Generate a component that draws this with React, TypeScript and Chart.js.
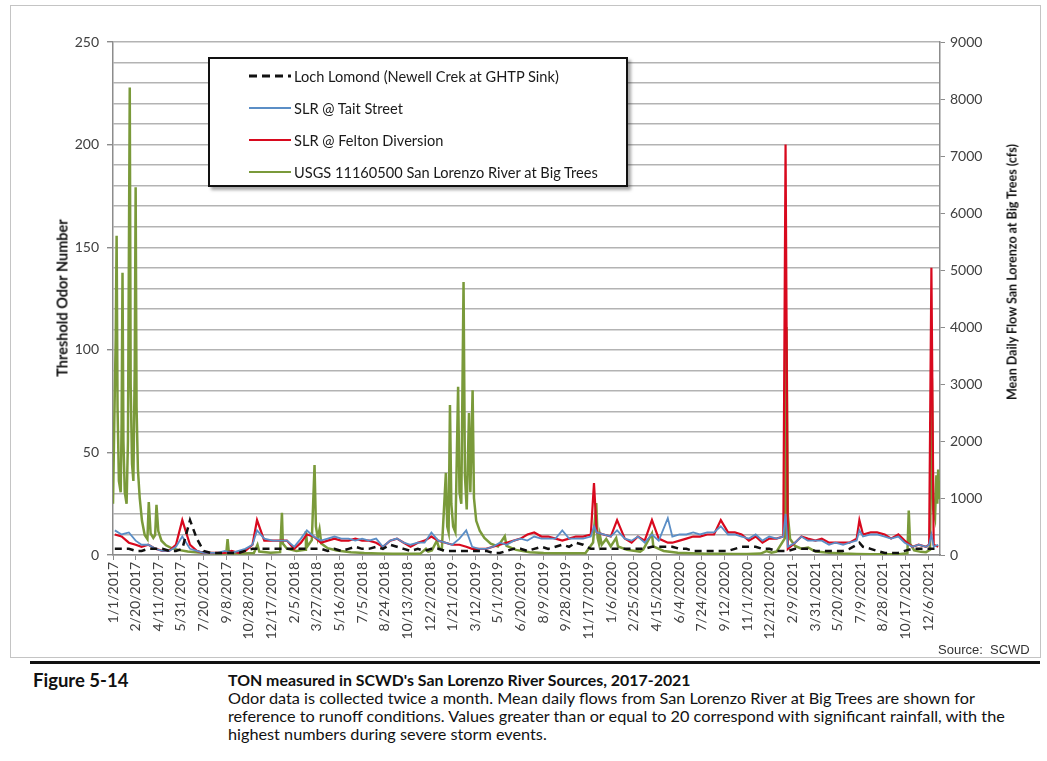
import React, { useEffect, useRef } from "react";
import { Chart, registerables } from "chart.js";

Chart.register(...registerables);

// ---------- DATA ----------
// Odor sampling dates (about twice a month)
const odorDates = [
  "2017-01-05","2017-01-20","2017-02-05","2017-02-20","2017-03-05","2017-03-20","2017-04-05","2017-04-20","2017-05-05","2017-05-20","2017-06-03","2017-06-20","2017-07-05","2017-07-20","2017-08-05","2017-08-20","2017-09-05","2017-09-20","2017-10-05","2017-10-20","2017-11-05","2017-11-15","2017-12-01","2017-12-20",
  "2018-01-05","2018-01-20","2018-02-05","2018-02-20","2018-03-05","2018-03-20","2018-04-05","2018-04-20","2018-05-05","2018-05-20","2018-06-05","2018-06-20","2018-07-05","2018-07-20","2018-08-05","2018-08-20","2018-09-05","2018-09-20","2018-10-05","2018-10-20","2018-11-05","2018-11-20","2018-12-05","2018-12-20",
  "2019-01-05","2019-01-20","2019-02-05","2019-02-20","2019-03-05","2019-03-20","2019-04-05","2019-04-20","2019-05-05","2019-05-20","2019-06-05","2019-06-20","2019-07-05","2019-07-20","2019-08-05","2019-08-20","2019-09-05","2019-09-20","2019-10-05","2019-10-20","2019-11-05","2019-11-22","2019-11-29","2019-12-05","2019-12-20",
  "2020-01-05","2020-01-19","2020-02-05","2020-02-20","2020-03-05","2020-03-20","2020-04-05","2020-04-20","2020-05-10","2020-05-20","2020-06-05","2020-06-20","2020-07-05","2020-07-20","2020-08-05","2020-08-20","2020-09-04","2020-09-20","2020-10-05","2020-10-20","2020-11-05","2020-11-20","2020-12-05","2020-12-20",
  "2021-01-05","2021-01-20","2021-01-25","2021-01-30","2021-02-15","2021-03-01","2021-03-15","2021-04-01","2021-04-15","2021-05-01","2021-05-15","2021-06-01","2021-06-15","2021-07-01","2021-07-07","2021-07-15","2021-08-01","2021-08-15","2021-09-01","2021-09-15","2021-10-01","2021-10-15","2021-11-01","2021-11-15","2021-12-01","2021-12-08","2021-12-13","2021-12-18","2021-12-28"
];

// Loch Lomond (Newell Crek at GHTP Sink)
const lochLomond = [
  3,3,3,2,2,3,3,3,2,2,3,17,8,2,1,1,1,1,1,2,3,3,3,3,
  3,3,3,3,3,3,3,2,3,2,3,4,3,3,4,3,5,4,3,2,3,2,3,3,
  2,2,2,2,2,2,2,1,1,2,3,3,2,3,4,3,4,5,4,6,5,3,3,3,3,
  3,3,3,3,3,3,4,4,4,4,3,3,2,2,2,2,2,2,3,4,4,4,3,3,
  2,2,2,2,3,3,3,2,2,2,2,2,3,5,6,4,3,2,1,1,1,2,3,3,3,3,3,3,3
];

// SLR @ Tait Street
const taitStreet = [
  12,10,11,7,5,5,3,2,2,4,9,3,2,1,1,1,2,1,2,3,5,12,8,7,
  7,7,4,8,12,9,7,8,9,8,8,7,8,7,8,4,7,8,6,5,6,6,11,7,
  6,5,8,12,4,3,3,4,6,5,7,8,7,9,8,8,8,12,8,8,8,9,14,11,10,
  9,12,8,7,9,6,10,7,18,9,10,10,11,10,11,11,14,10,10,9,8,10,7,9,
  8,9,20,4,6,9,7,7,7,5,6,5,6,7,12,9,10,10,9,8,9,6,4,5,4,5,10,4,5
];

// SLR @ Felton Diversion
const feltonDiversion = [
  10,9,6,5,4,5,3,2,2,5,17,5,2,1,1,1,1,2,1,2,5,17,7,7,
  7,7,3,6,10,9,6,7,8,7,7,8,7,7,6,4,7,8,6,4,6,7,9,7,
  6,5,5,4,3,3,3,4,5,6,7,8,10,11,9,9,8,7,8,9,9,10,35,11,10,
  9,17,8,6,9,7,17,8,6,6,7,8,9,9,10,10,17,11,11,10,7,9,6,8,
  8,9,200,3,6,9,8,7,8,6,6,6,6,8,17,10,11,11,10,8,10,7,4,5,4,5,140,5,4
];

// USGS 11160500 San Lorenzo River at Big Trees, mean daily flow (cfs)
const flowDates = [
  "2017-01-01","2017-01-04","2017-01-07","2017-01-09","2017-01-11","2017-01-14","2017-01-18","2017-01-20","2017-01-22","2017-01-24","2017-01-27","2017-01-31",
  "2017-02-03","2017-02-07","2017-02-09","2017-02-12","2017-02-15","2017-02-18","2017-02-20","2017-02-22","2017-02-25",
  "2017-03-01","2017-03-06","2017-03-12","2017-03-18","2017-03-21","2017-03-25","2017-03-31",
  "2017-04-04","2017-04-07","2017-04-11","2017-04-18","2017-04-28","2017-05-10","2017-05-25","2017-06-15","2017-07-15","2017-08-15",
  "2017-09-08","2017-09-11","2017-09-14","2017-10-15","2017-11-08","2017-11-16","2017-11-20","2017-12-15",
  "2018-01-05","2018-01-09","2018-01-11","2018-01-20","2018-02-10","2018-03-01","2018-03-03","2018-03-06","2018-03-16","2018-03-22","2018-03-25","2018-03-29",
  "2018-04-02","2018-04-06","2018-04-20","2018-05-10","2018-06-10","2018-07-10","2018-08-10","2018-09-10","2018-10-10","2018-11-10","2018-11-23","2018-11-28",
  "2018-12-06","2018-12-17","2018-12-22","2018-12-28",
  "2019-01-06","2019-01-09","2019-01-12","2019-01-15","2019-01-18","2019-01-22","2019-01-27","2019-02-02","2019-02-05","2019-02-09","2019-02-14","2019-02-17","2019-02-21","2019-02-26",
  "2019-03-01","2019-03-06","2019-03-09","2019-03-14","2019-03-22","2019-04-01","2019-04-15","2019-05-01","2019-05-16","2019-05-20","2019-06-10","2019-07-10","2019-08-10","2019-09-10","2019-10-10","2019-11-10",
  "2019-11-27","2019-12-04","2019-12-07","2019-12-10","2019-12-12","2019-12-16","2019-12-26",
  "2020-01-05","2020-01-17","2020-01-21","2020-02-10","2020-03-10","2020-03-17","2020-04-05","2020-04-08","2020-05-01","2020-06-01","2020-07-01","2020-08-01","2020-09-01","2020-10-01","2020-11-01","2020-12-01","2020-12-14","2020-12-25",
  "2021-01-05","2021-01-24","2021-01-27","2021-01-30","2021-02-04","2021-02-15","2021-03-01","2021-03-16","2021-04-01","2021-05-01","2021-06-01","2021-07-01","2021-08-01","2021-09-01","2021-10-01","2021-10-21","2021-10-24","2021-10-27","2021-11-05","2021-11-20",
  "2021-12-01","2021-12-10","2021-12-14","2021-12-17","2021-12-21","2021-12-24","2021-12-26","2021-12-28","2021-12-30","2021-12-31"
];
const flowCfs = [
  900,2400,3800,5600,2600,1300,1100,2300,4950,2000,1100,900,
  2000,8200,3000,1600,1300,3300,6450,2600,1500,
  1000,600,350,280,930,380,300,
  350,880,420,250,170,120,90,60,40,30,
  25,280,30,25,35,180,60,40,
  50,740,200,110,70,90,420,150,260,1580,500,300,
  450,200,120,80,50,35,25,20,20,20,110,60,
  80,250,120,90,
  1440,500,400,2630,900,500,400,2950,1100,900,4790,1400,800,2490,
  1100,2890,1000,600,420,300,200,150,330,160,90,50,35,30,30,30,
  220,910,300,200,350,180,280,
  150,300,150,90,60,100,380,150,70,40,30,20,20,18,18,25,70,40,
  60,300,4000,700,280,160,110,130,60,40,25,18,15,14,14,30,780,200,80,55,
  50,90,3100,800,650,1400,900,1500,1000,1300
];

const leftAxisMax = 250;
const leftGridStep = 10;
const leftLabelStep = 50;
const rightAxisMax = 9000;
const rightStep = 1000;
const xTickStepDays = 50;
const xAxisEndDate = "2022-01-01";

const legendItems = [
  { label: "Loch Lomond (Newell Crek at GHTP Sink)", color: "#111111", dash: true },
  { label: "SLR @ Tait Street", color: "#5B8EC6", dash: false },
  { label: "SLR @ Felton Diversion", color: "#D8091E", dash: false },
  { label: "USGS 11160500 San Lorenzo River at Big Trees", color: "#7A9A3A", dash: false },
];

// ---------- helpers ----------
const DAY0 = Date.UTC(2017, 0, 1);
const toDay = (s: string) => {
  const [y, m, d] = s.split("-").map(Number);
  return (Date.UTC(y, m - 1, d) - DAY0) / 86400000;
};
const dayLabel = (v: number) => {
  const dt = new Date(DAY0 + v * 86400000);
  return `${dt.getUTCMonth() + 1}/${dt.getUTCDate()}/${dt.getUTCFullYear()}`;
};
const pts = (dates: string[], vals: number[]) =>
  dates.map((d, i) => ({ x: toDay(d), y: vals[i] }));

const FONT = "Lato, 'Open Sans', sans-serif";

export default function App() {
  const ref = useRef<HTMLCanvasElement | null>(null);

  useEffect(() => {
    if (!ref.current) return;
    const chart = new Chart(ref.current, {
      type: "line",
      data: {
        datasets: [
          {
            label: legendItems[0].label,
            data: pts(odorDates, lochLomond),
            borderColor: legendItems[0].color,
            borderWidth: 2.5,
            borderDash: [7, 5],
            pointRadius: 0,
            yAxisID: "y",
          },
          {
            label: legendItems[1].label,
            data: pts(odorDates, taitStreet),
            borderColor: legendItems[1].color,
            borderWidth: 1.8,
            pointRadius: 0,
            yAxisID: "y",
          },
          {
            label: legendItems[2].label,
            data: pts(odorDates, feltonDiversion),
            borderColor: legendItems[2].color,
            borderWidth: 2.2,
            pointRadius: 0,
            yAxisID: "y",
          },
          {
            label: legendItems[3].label,
            data: pts(flowDates, flowCfs),
            borderColor: legendItems[3].color,
            borderWidth: 2.5,
            pointRadius: 0,
            yAxisID: "y1",
          },
        ],
      },
      options: {
        animation: false,
        responsive: false,
        maintainAspectRatio: false,
        devicePixelRatio: 1,
        layout: { padding: { top: 37, left: 0, right: 0, bottom: 0 } },
        plugins: { legend: { display: false }, tooltip: { enabled: false } },
        elements: { line: { tension: 0 } },
        scales: {
          x: {
            type: "linear",
            min: 0,
            max: toDay(xAxisEndDate),
            afterFit: (s: any) => { s.height = 100; },
            grid: { drawOnChartArea: false, drawTicks: true, tickLength: 5, tickColor: "#8c8c8c" },
            border: { display: true, color: "#8c8c8c", width: 1.5 },
            ticks: {
              stepSize: xTickStepDays,
              includeBounds: false,
              autoSkip: false,
              minRotation: 90,
              maxRotation: 90,
              padding: 2,
              color: "#404040",
              font: { family: FONT, size: 14 },
              callback: (v: any) => dayLabel(Number(v)),
            },
          },
          y: {
            position: "left",
            min: 0,
            max: leftAxisMax,
            afterFit: (s: any) => { s.width = 103; },
            grid: {
              color: "#b3b3b3",
              lineWidth: 1.4,
              drawTicks: true,
              tickLength: 6,
              tickColor: (c: any) => (c.tick && c.tick.value % leftLabelStep === 0 ? "#8c8c8c" : "rgba(0,0,0,0)"),
            },
            border: { display: true, color: "#8c8c8c", width: 1.5 },
            ticks: {
              stepSize: leftGridStep,
              autoSkip: false,
              padding: 8,
              color: "#404040",
              font: { family: FONT, size: 14 },
              callback: (v: any) => (Number(v) % leftLabelStep === 0 ? String(v) : ""),
            },
          },
          y1: {
            position: "right",
            min: 0,
            max: rightAxisMax,
            afterFit: (s: any) => { s.width = 100; },
            grid: { drawOnChartArea: false, drawTicks: true, tickLength: 5, tickColor: "#8c8c8c" },
            border: { display: true, color: "#8c8c8c", width: 1.5 },
            ticks: {
              stepSize: rightStep,
              autoSkip: false,
              padding: 5,
              color: "#404040",
              font: { family: FONT, size: 14 },
              callback: (v: any) => String(v),
            },
          },
        },
      },
    } as any);
    return () => chart.destroy();
  }, []);

  const abs = (s: React.CSSProperties): React.CSSProperties => ({ position: "absolute", ...s });

  return (
    <div style={abs({ left: 0, top: 0, width: 1047, height: 761, background: "#fff", fontFamily: FONT, overflow: "hidden" })}>
      {/* chart frame */}
      <div style={abs({ left: 10, top: 5, width: 1029, height: 651, border: "1px solid #c4c4c4" })} />
      <canvas ref={ref} width={1030} height={650} style={abs({ left: 10, top: 5, width: 1030, height: 650 })} />

      {/* axis titles */}
      <div style={abs({ left: 62, top: 298, transform: "translate(-50%,-50%) rotate(-90deg)", whiteSpace: "nowrap", fontWeight: 700, fontSize: 14.5, color: "#111" })}>
        Threshold Odor Number
      </div>
      <div style={abs({ left: 1012, top: 272, transform: "translate(-50%,-50%) rotate(-90deg)", whiteSpace: "nowrap", fontWeight: 700, fontSize: 12.5, color: "#111" })}>
        Mean Daily Flow San Lorenzo at Big Trees (cfs)
      </div>

      {/* legend */}
      <div style={abs({ left: 208, top: 57, width: 416, height: 126, border: "2px solid #111", background: "#fff", boxShadow: "3px 3px 3px rgba(0,0,0,0.35)" })}>
        {legendItems.map((it, i) => (
          <div key={i} style={abs({ left: 38, top: 7 + i * 32, height: 20, display: "flex", alignItems: "center", whiteSpace: "nowrap" })}>
            <svg width={44} height={8} style={{ marginRight: 2 }}>
              <line x1={1} y1={4} x2={43} y2={4} stroke={it.color} strokeWidth={it.dash ? 3 : 2} strokeDasharray={it.dash ? "8 5" : undefined} />
            </svg>
            <span style={{ fontSize: 14.6, color: "#1a1a1a" }}>{it.label}</span>
          </div>
        ))}
      </div>

      {/* source */}
      <div style={abs({ left: 938, top: 642, fontFamily: "'Liberation Sans', Arial, sans-serif", fontSize: 13, color: "#333" })}>Source:&nbsp; SCWD</div>

      {/* caption */}
      <div style={abs({ left: 30, top: 661, width: 1010, height: 3, background: "#111" })} />
      <div style={abs({ left: 33, top: 671, fontWeight: 700, fontSize: 18.5, color: "#111", lineHeight: "18px" })}>Figure 5-14</div>
      <div style={abs({ left: 228, top: 671, fontSize: 16.25, color: "#111", lineHeight: "18px", whiteSpace: "nowrap" })}>
        <div style={{ fontWeight: 700, fontSize: 15.9 }}>TON measured in SCWD's San Lorenzo River Sources, 2017-2021</div>
        <div>Odor data is collected twice a month. Mean daily flows from San Lorenzo River at Big Trees are shown for</div>
        <div>reference to runoff conditions. Values greater than or equal to 20 correspond with significant rainfall, with the</div>
        <div>highest numbers during severe storm events.</div>
      </div>
    </div>
  );
}
